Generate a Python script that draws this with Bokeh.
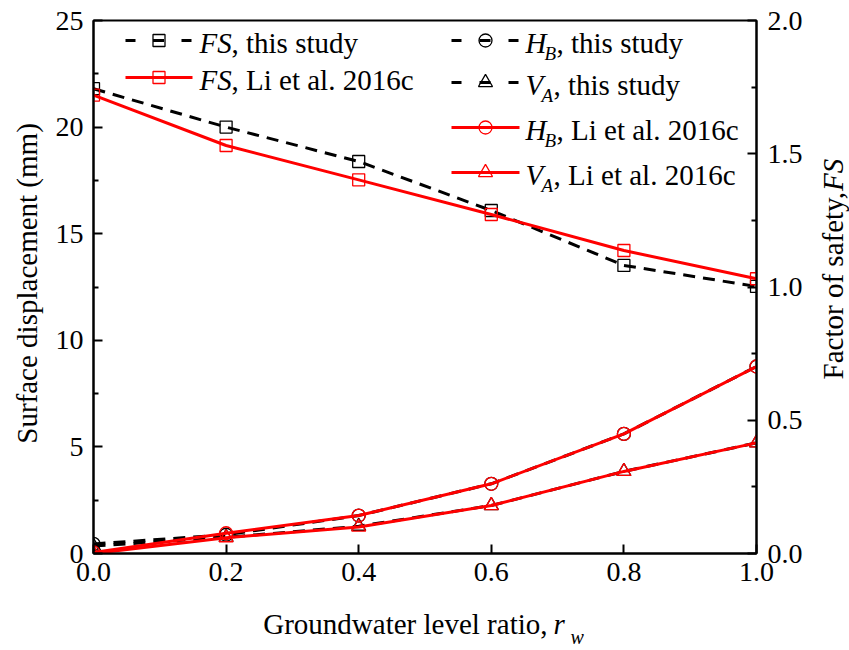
import math
from bokeh.plotting import figure
from bokeh.models import Range1d, LinearAxis, FixedTicker, Label
from bokeh.layouts import row, column
from bokeh.embed import file_html
from bokeh.resources import INLINE

# ---------------- data ----------------
rw = [0.0, 0.2, 0.4, 0.6, 0.8, 1.0]
fs_this = [1.744, 1.600, 1.471, 1.287, 1.081, 1.002]
fs_li = [1.720, 1.531, 1.402, 1.272, 1.137, 1.031]
hb_this = [0.45, 0.88, 1.78, 3.27, 5.61, 8.77]
va_this = [0.35, 0.76, 1.28, 2.25, 3.85, 5.19]
hb_li = [0.05, 0.95, 1.78, 3.27, 5.61, 8.77]
va_li = [0.0, 0.74, 1.24, 2.25, 3.85, 5.19]

x_ticks = [0.0, 0.2, 0.4, 0.6, 0.8, 1.0]
x_labels = ["0.0", "0.2", "0.4", "0.6", "0.8", "1.0"]
left_ticks = [0, 5, 10, 15, 20, 25]
left_labels = ["0", "5", "10", "15", "20", "25"]
left_minor = [2.5, 7.5, 12.5, 17.5, 22.5]
right_ticks = [0.0, 0.5, 1.0, 1.5, 2.0]
right_labels = ["0.0", "0.5", "1.0", "1.5", "2.0"]
right_minor = [0.25, 0.75, 1.25, 1.75]

# ---------------- layout ----------------
W, H = 849, 650
LW, RW, BH = 50, 40, 50          # side strips holding the axis titles
PW, PH = W - LW - RW, H - BH     # main figure size
FL, FR, FT, FB = 93, 756, 20, 553  # frame edges in canvas px
SERIF = "Liberation Serif"
RED = "#ff0000"
LWID = 3


def bfix(size):
    # Bokeh draws the alphabetic baseline this much past the anchor
    return 0.28 * size


p = figure(width=PW, height=PH, x_range=Range1d(0, 1), y_range=Range1d(0, 25),
           output_backend="svg", toolbar_location=None,
           min_border_left=FL - LW, min_border_right=(LW + PW) - FR,
           min_border_top=FT, min_border_bottom=PH - FB)
p.extra_y_ranges = {"fs": Range1d(0, 2)}
p.xgrid.visible = False
p.ygrid.visible = False
p.outline_line_color = "black"
p.outline_line_width = 2
p.background_fill_color = "white"
p.border_fill_color = "white"


def style_axis(ax, ticks, labels, minor, standoff):
    ax.ticker = FixedTicker(ticks=ticks, minor_ticks=minor)
    ax.major_label_overrides = {t: l for t, l in zip(ticks, labels)}
    ax.major_tick_in = 9
    ax.major_tick_out = 0
    ax.minor_tick_in = 5
    ax.minor_tick_out = 0
    ax.major_tick_line_width = 2
    ax.minor_tick_line_width = 2
    ax.axis_line_width = 2
    ax.axis_line_color = "black"
    ax.major_tick_line_color = "black"
    ax.minor_tick_line_color = "black"
    ax.major_label_text_font = SERIF
    ax.major_label_text_font_size = "28px"
    ax.major_label_text_color = "black"
    ax.major_label_standoff = standoff
    ax.axis_label = None


style_axis(p.xaxis[0], x_ticks, x_labels, [], 9)
style_axis(p.yaxis[0], left_ticks, left_labels, left_minor, 10)
raxis = LinearAxis(y_range_name="fs")
style_axis(raxis, right_ticks, right_labels, right_minor, 11)
p.add_layout(raxis, "right")

# ---------------- series ----------------
DASH = "12 8"
p.line(rw, fs_this, y_range_name="fs", line_color="black", line_width=LWID, line_dash=DASH)
p.scatter(rw, fs_this, y_range_name="fs", marker="square", size=12, fill_color=None,
          line_color="black", line_width=1.3)
p.line(rw, hb_this, line_color="black", line_width=LWID, line_dash=DASH)
p.scatter(rw, hb_this, marker="circle", size=13, fill_color=None, line_color="black", line_width=1.3)
p.line(rw, va_this, line_color="black", line_width=LWID, line_dash=DASH)
p.scatter(rw, va_this, marker="triangle", size=14, fill_color=None, line_color="black", line_width=1.3)

p.line(rw, fs_li, y_range_name="fs", line_color=RED, line_width=LWID)
p.scatter(rw, fs_li, y_range_name="fs", marker="square", size=12, fill_color=None,
          line_color=RED, line_width=1.3)
p.line(rw, hb_li, line_color=RED, line_width=LWID)
p.scatter(rw, hb_li, marker="circle", size=13, fill_color=None, line_color=RED, line_width=1.3)
p.line(rw, va_li, line_color=RED, line_width=LWID)
p.scatter(rw, va_li, marker="triangle", size=14, fill_color=None, line_color=RED, line_width=1.3)


# ---------------- helpers (canvas px -> data / frame screen) ----------------
def dx(px):
    return (px - FL) / (FR - FL)


def dy(py):
    return (FB - py) / (FB - FT) * 25.0


def lab(px, py, text, size=29, style="normal", align="left"):
    p.add_layout(Label(x=px - FL, y=FB - (py - bfix(size)), x_units="screen", y_units="screen",
                       text=text, text_font=SERIF, text_font_size=f"{size}px",
                       text_font_style=style, text_align=align, text_baseline="alphabetic",
                       text_color="black"))


# ---------------- legend (drawn manually for italic / subscript labels) ----------------
def sample(x0, x1, py, marker, msize, color, dashed):
    xm = (x0 + x1) / 2.0
    if dashed:
        p.segment(x0=[dx(x0), dx(xm - 6), dx(x1 - 11)], y0=[dy(py)] * 3,
                  x1=[dx(x0 + 10), dx(xm + 5), dx(x1 - 1)], y1=[dy(py)] * 3,
                  line_color=color, line_width=LWID)
    else:
        p.segment(x0=[dx(x0)], y0=[dy(py)], x1=[dx(x1)], y1=[dy(py)], line_color=color,
                  line_width=LWID)
    p.scatter([dx(xm)], [dy(py)], marker=marker, size=msize, fill_color=None, line_color=color,
              line_width=1.3)


def entry(x0, x1, tx, py, marker, msize, color, dashed, main, sub, rest):
    sample(x0, x1, py, marker, msize, color, dashed)
    base = py + 11
    lab(tx, base, main, style="italic")
    if sub:
        wmain = {"H": 21, "V": 18}[main]
        lab(tx + wmain - 2, base + 7, sub, size=19, style="italic")
        lab(tx + wmain + 10, base, rest)
    else:
        lab(tx + 32, base, rest)


entry(125, 192, 199, 40, "square", 12, "black", True, "FS", None, ", this study")
entry(125, 192, 199, 77, "square", 12, RED, False, "FS", None, ", Li et al. 2016c")
entry(451, 519, 525, 40, "circle", 13, "black", True, "H", "B", ", this study")
entry(451, 519, 525, 82, "triangle", 14, "black", True, "V", "A", ", this study")
entry(451, 519, 525, 127, "circle", 13, RED, False, "H", "B", ", Li et al. 2016c")
entry(451, 519, 525, 172, "triangle", 14, RED, False, "V", "A", ", Li et al. 2016c")


# ---------------- strips with the axis titles ----------------
def strip(w, h):
    f = figure(width=w, height=h, x_range=Range1d(0, w), y_range=Range1d(0, h),
               output_backend="svg", toolbar_location=None,
               x_axis_location=None, y_axis_location=None,
               min_border_left=0, min_border_right=0, min_border_top=0, min_border_bottom=0)
    f.outline_line_color = None
    f.xgrid.visible = False
    f.ygrid.visible = False
    f.background_fill_color = "white"
    f.border_fill_color = "white"
    return f


def slab(f, ox, oy, h, px, py, text, size=29, style="normal", align="left", vertical=False):
    # px, py: wanted baseline anchor in canvas px
    if vertical:
        px, angle = px - bfix(size), math.pi / 2
    else:
        py, angle = py - bfix(size), 0.0
    f.add_layout(Label(x=px - ox, y=(oy + h) - py, text=text, text_font=SERIF,
                       text_font_size=f"{size}px", text_font_style=style, text_align=align,
                       text_baseline="alphabetic", text_color="black", angle=angle))


left_fig = strip(LW, PH)
slab(left_fig, 0, 0, PH, 35, 296, "Surface displacement (mm)", align="center", vertical=True)

right_fig = strip(RW, PH)
r_start = 404
slab(right_fig, LW + PW, 0, PH, 841, r_start, "Factor of safety,", vertical=True)
slab(right_fig, LW + PW, 0, PH, 841, r_start - 212, "FS", style="italic", vertical=True)

bottom_fig = strip(W, BH)
slab(bottom_fig, 0, PH, BH, 547, 632, "Groundwater level ratio,", align="right")
slab(bottom_fig, 0, PH, BH, 553, 632, "r", style="italic")
slab(bottom_fig, 0, PH, BH, 570, 642, "w", size=20, style="italic")

layout = column(row(left_fig, p, right_fig, spacing=0), bottom_fig, spacing=0)

open("out.html", "w").write(file_html(layout, INLINE))
